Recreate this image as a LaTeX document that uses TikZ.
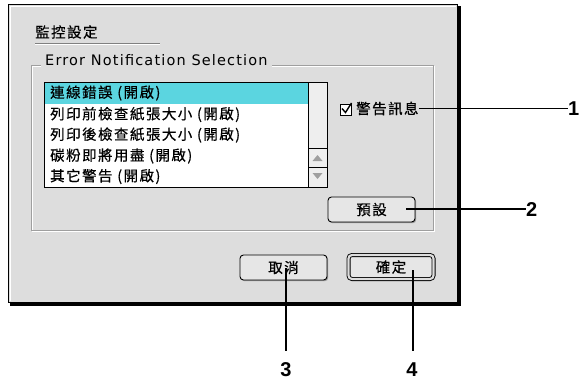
\documentclass[tikz,border=0pt]{standalone}
\usepackage{fontspec}
\setmainfont{DejaVu Sans}
\newfontfamily\cjk[LetterSpace=10, FakeBold=0.5]{Noto Sans CJK TC}
\newfontfamily\uifont[LetterSpace=8]{DejaVu Sans}
\newfontfamily\lbl{Liberation Sans}
\usetikzlibrary{shadows}
\definecolor{winbg}{HTML}{DDDDDD}
\definecolor{hilite}{HTML}{5BD5E0}
\definecolor{barbg}{HTML}{EEEEEE}
\definecolor{btnbg}{HTML}{E6E6E6}
\begin{document}
\begin{tikzpicture}[x=1pt,y=-1pt,
  cjktext/.style={font=\cjk\fontsize{14.5}{16}\selectfont, inner sep=0pt},
  btn/.style={cjktext, draw=black, line width=0.9pt, fill=btnbg, rounded corners=3.5pt,
    minimum width=87pt, minimum height=25pt,
    drop shadow={shadow xshift=1.2pt, shadow yshift=-1.2pt, fill=gray!80, opacity=1}},
  leader/.style={line width=1.4pt},
  callout/.style={font=\lbl\bfseries\fontsize{20}{22}\selectfont, inner sep=0pt}]
\useasboundingbox[fill=white] (0,0) rectangle (583,380);

% window with shadow
\fill[black] (10,6) rectangle (461,306);
\draw[fill=winbg, line width=0.8pt] (8,4) rectangle (457.5,302.5);
\draw[white] (9.8,301) |- (456,5.8);

% title
\node[cjktext, anchor=west] (title) at (35,32) {監控設定};
\draw[gray] (35,43) -- (160,43);
\draw[white] (35,44) -- (160,44);

% group box
\draw[white] (32,66) rectangle (434,231);
\draw[gray!75] (31,65) rectangle (433,230);
\node[anchor=west, fill=winbg, inner xsep=4pt, inner ysep=1pt, font=\uifont\fontsize{14.5}{16}\selectfont] (group) at (41,60) {Error Notification Selection};

% list box
\draw[fill=white] (44,82) rectangle (327,187);
\fill[hilite] (44.5,82.5) rectangle (308,104);
\draw[fill=barbg] (308,82) rectangle (327,187);
\draw (308,148) -- (327,148);
\draw (308,167) -- (327,167);
\fill[gray!75] (312.5,161) -- (322.5,161) -- (317.5,155) -- cycle;
\fill[gray!75] (312.5,173) -- (322.5,173) -- (317.5,179) -- cycle;
\node[cjktext, anchor=west] (row1) at (50,93) {連線錯誤 (開啟)};
\node[cjktext, anchor=west] (row2) at (50,114.5) {列印前檢查紙張大小 (開啟)};
\node[cjktext, anchor=west] (row3) at (50,135) {列印後檢查紙張大小 (開啟)};
\node[cjktext, anchor=west] (row4) at (50,156) {碳粉即將用盡 (開啟)};
\node[cjktext, anchor=west] (row5) at (50,176.5) {其它警告 (開啟)};

% checkbox
\node[draw, line width=0.8pt, fill=white, minimum size=11pt, inner sep=0pt] (chk) at (346,109.5) {};
\draw[line width=1.4pt] (342,108.5) -- (345.5,112.5) -- (351.5,103);
\node[cjktext, anchor=west] (warn) at (356,108.5) {警告訊息};

% buttons
\node[btn] (dflt) at (371.5,209.5) {預設};
\node[btn] (cancel) at (283.5,267.5) {取消};
\node[btn, minimum width=85pt, minimum height=24pt, double=winbg, double distance=2.2pt] (ok) at (391,267) {確定};

% callouts
\node[callout, anchor=west] (n1) at (568,109) {1};
\node[callout, anchor=west] (n2) at (526,210) {2};
\node[callout, anchor=base] (n3) at (286,376) {3};
\node[callout, anchor=base] (n4) at (412,376) {4};
\coordinate (d2) at (406,209);
\coordinate (d3) at (286,268);
\coordinate (d4) at (413,270);
\draw[leader] (warn.east) -- (n1.west |- warn.east);
\draw[leader] (d2) -- (n2.west |- d2);
\draw[leader] (d3) -- ([yshift=11pt]n3.north);
\draw[leader] (d4) -- ([yshift=11pt]n4.north -| d4);
\end{tikzpicture}
\end{document}
